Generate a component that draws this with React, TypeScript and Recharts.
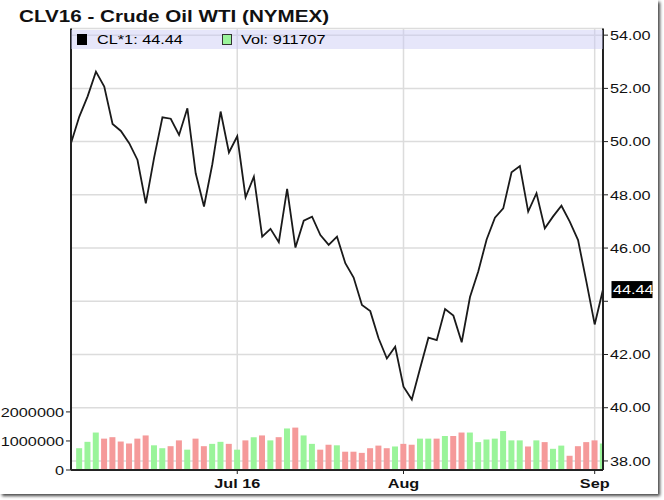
import React from 'react';
import { ComposedChart, Line, Bar, XAxis, YAxis, CartesianGrid, Cell, ReferenceLine, Legend } from 'recharts';

const dates = [
  '2016-06-03', '2016-06-06', '2016-06-07', '2016-06-08', '2016-06-09', '2016-06-10',
  '2016-06-13', '2016-06-14', '2016-06-15', '2016-06-16', '2016-06-17',
  '2016-06-20', '2016-06-21', '2016-06-22', '2016-06-23', '2016-06-24',
  '2016-06-27', '2016-06-28', '2016-06-29', '2016-06-30',
  '2016-07-01', '2016-07-05', '2016-07-06', '2016-07-07', '2016-07-08',
  '2016-07-11', '2016-07-12', '2016-07-13', '2016-07-14', '2016-07-15',
  '2016-07-18', '2016-07-19', '2016-07-20', '2016-07-21', '2016-07-22',
  '2016-07-25', '2016-07-26', '2016-07-27', '2016-07-28', '2016-07-29',
  '2016-08-01', '2016-08-02', '2016-08-03', '2016-08-04', '2016-08-05',
  '2016-08-08', '2016-08-09', '2016-08-10', '2016-08-11', '2016-08-12',
  '2016-08-15', '2016-08-16', '2016-08-17', '2016-08-18', '2016-08-19',
  '2016-08-22', '2016-08-23', '2016-08-24', '2016-08-25', '2016-08-26',
  '2016-08-29', '2016-08-30', '2016-08-31',
  '2016-09-01', '2016-09-02',
];

const closes = [
  49.94, 50.94, 51.70, 52.63, 52.07, 50.66,
  50.40, 49.94, 49.31, 47.68, 49.40,
  50.91, 50.86, 50.25, 51.25, 48.81,
  47.56, 49.15, 51.13, 49.59,
  50.20, 47.91, 48.68, 46.43, 46.72,
  46.22, 48.22, 46.02, 47.03, 47.18,
  46.49, 46.12, 46.43, 45.43, 44.89,
  43.86, 43.63, 42.61, 41.85, 42.29,
  40.79, 40.31, 41.48, 42.63, 42.54,
  43.71, 43.46, 42.46, 44.16, 45.13,
  46.32, 47.14, 47.49, 48.85, 49.08,
  47.37, 48.06, 46.74, 47.19, 47.59,
  46.99, 46.30, 44.74,
  43.13, 44.44,
];

const volumes: (number | null)[] = [
  null, 750000, 970000, 1290000, 1080000, 1130000,
  980000, 910000, 1080000, 1190000, 850000,
  750000, 820000, 1020000, 700000, 1080000,
  820000, 900000, 970000, 900000,
  700000, 1020000, 1130000, 1190000, 1020000,
  1130000, 1430000, 1460000, 1190000, 900000,
  700000, 870000, 850000, 630000, 630000,
  590000, 750000, 840000, 750000, 810000,
  900000, 870000, 1080000, 1080000, 1080000,
  1170000, 1170000, 1290000, 1290000, 960000,
  1050000, 1080000, 1340000, 1020000, 1020000,
  810000, 1020000, 960000, 730000, 840000,
  490000, 820000, 960000,
  1020000, 911707,
];

const xTickDates = ['2016-07-01', '2016-08-01', '2016-09-01'];
const xTickLabels = ['Jul 16', 'Aug', 'Sep'];
const priceTicks = [38, 40, 42, 44, 46, 48, 50, 52, 54];
const volTicks = [0, 1000000, 2000000];

const title = 'CLV16 - Crude Oil WTI (NYMEX)';
const priceLabel = 'CL*1';
const volLabel = 'Vol';

const data = dates.map((d, i) => ({ i, date: d, close: closes[i], vol: volumes[i] }));
const xTicks = xTickDates.map((d) => dates.indexOf(d));
const lastClose = closes[closes.length - 1];
const lastVol = volumes[volumes.length - 1];

const FONT = '"Liberation Sans", Arial, sans-serif';
const SX = 1.25;
const GREEN = '#9af49a';
const RED = '#f59a9a';

const VolTick = (props: any) => {
  const { x, y, payload } = props;
  return (
    <text transform={`translate(${x},${y}) scale(${SX},1)`} textAnchor="end" dy="0.36em" fontSize={13} fontFamily={FONT} fill="#111">
      {String(payload.value)}
    </text>
  );
};

const PriceTick = (props: any) => {
  const { x, y, payload } = props;
  if (Math.abs(payload.value - lastClose) < 0.6) return <g />;
  return (
    <text transform={`translate(${x},${y}) scale(${SX},1)`} textAnchor="start" dy="0.36em" fontSize={13} fontFamily={FONT} fill="#111">
      {Number(payload.value).toFixed(2)}
    </text>
  );
};

const DateTick = (props: any) => {
  const { x, y, payload } = props;
  const idx = xTicks.indexOf(payload.value);
  return (
    <text transform={`translate(${x},${y}) scale(${SX},1)`} textAnchor="middle" dy="0.75em" fontSize={13} fontWeight="bold" fontFamily={FONT} fill="#111">
      {idx >= 0 ? xTickLabels[idx] : ''}
    </text>
  );
};

const LastLabel = (props: any) => {
  const vb = props.viewBox || {};
  const xr = (vb.x || 0) + (vb.width || 0);
  const yc = vb.y || 0;
  return (
    <g>
      <rect x={xr + 8.5} y={yc - 8.5} width={41} height={17} fill="#000" />
      <text transform={`translate(${xr + 10},${yc}) scale(${SX},1)`} textAnchor="start" dy="0.36em" fontSize={13} fontFamily={FONT} fill="#fff">
        {lastClose.toFixed(2)}
      </text>
    </g>
  );
};

const LegendBox = () => (
  <div style={{ position: 'relative', width: 532, height: 19, background: 'rgba(200,200,245,0.45)', fontFamily: FONT, fontSize: 13, color: '#000' }}>
    <div style={{ position: 'absolute', left: 6, top: 4, width: 10, height: 11, background: '#000' }} />
    <div style={{ position: 'absolute', left: 26, top: 2, lineHeight: '15px', transform: `scale(${SX},1)`, transformOrigin: 'left center', whiteSpace: 'nowrap' }}>
      {priceLabel}: {lastClose.toFixed(2)}
    </div>
    <div style={{ position: 'absolute', left: 151, top: 4, width: 8, height: 9, background: GREEN, border: '1px solid #333' }} />
    <div style={{ position: 'absolute', left: 170, top: 2, lineHeight: '15px', transform: `scale(${SX},1)`, transformOrigin: 'left center', whiteSpace: 'nowrap' }}>
      {volLabel}: {lastVol}
    </div>
  </div>
);

export default function App() {
  return (
    <div style={{ position: 'absolute', left: 0, top: 0, width: 664, height: 500, background: '#fff', overflow: 'hidden' }}>
      <div style={{ position: 'absolute', left: 0, top: 0, width: 658, height: 494, boxShadow: '2px 2px 3px #444', background: '#fff' }} />
      <div style={{ position: 'absolute', left: 19, top: 7.5, fontFamily: FONT, fontWeight: 'bold', fontSize: 16.5, lineHeight: '16.5px', color: '#111', transform: `scale(${SX},1)`, transformOrigin: 'left top', whiteSpace: 'nowrap' }}>
        {title}
      </div>
      <div style={{ position: 'absolute', left: 0, top: 0 }}>
        <ComposedChart width={664} height={500} data={data} margin={{ top: 28.5, right: 0, bottom: 0, left: 0 }}>
          <CartesianGrid xAxisId="x" yAxisId="price" stroke="#dcdcdc" strokeWidth={1.5} />
          <XAxis xAxisId="x" dataKey="i" type="number" domain={[0, dates.length - 1]} ticks={xTicks} allowDataOverflow
            height={30} tickSize={4} tickMargin={4} tick={<DateTick />} axisLine={{ stroke: '#222', strokeWidth: 2 }} tickLine={{ stroke: '#222' }} />
          <XAxis xAxisId="top" orientation="top" dataKey="i" type="number" domain={[0, dates.length - 1]} height={0}
            tick={false} tickLine={false} axisLine={{ stroke: '#333', strokeWidth: 1.5 }} />
          <YAxis yAxisId="vol" orientation="left" width={71} domain={[0, 15200000]} ticks={volTicks} allowDataOverflow
            tickSize={5} tickMargin={2} tick={<VolTick />} axisLine={{ stroke: '#222', strokeWidth: 2 }} tickLine={{ stroke: '#222' }} />
          <YAxis yAxisId="price" orientation="right" width={61} domain={[37.66, 54.25]} ticks={priceTicks} allowDataOverflow
            tickSize={5} tickMargin={2} tick={<PriceTick />} axisLine={{ stroke: '#222', strokeWidth: 2 }} tickLine={{ stroke: '#222' }} />
          <Bar xAxisId="x" yAxisId="vol" dataKey="vol" barSize={6} isAnimationActive={false}>
            {data.map((d, i) => (
              <Cell key={d.date} fill={i > 0 && closes[i] < closes[i - 1] ? RED : GREEN} />
            ))}
          </Bar>
          <Line xAxisId="x" yAxisId="price" type="linear" dataKey="close" stroke="#1a1a1a" strokeWidth={1.8} dot={false} isAnimationActive={false} />
          <ReferenceLine xAxisId="x" yAxisId="price" y={lastClose} stroke="none" label={<LastLabel />} />
          <Legend layout="horizontal" verticalAlign="middle" align="center" content={() => <LegendBox />}
            wrapperStyle={{ position: 'absolute', left: 71, top: 29.5, width: 532, height: 19, margin: 0, padding: 0 }} />
        </ComposedChart>
      </div>
    </div>
  );
}
